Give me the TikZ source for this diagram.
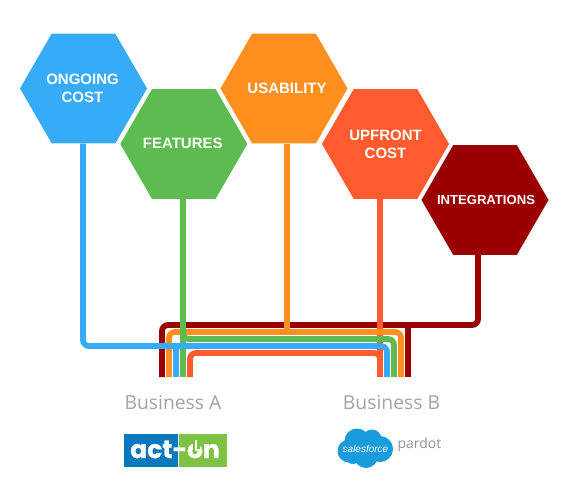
\documentclass[tikz,border=0pt]{standalone}
\usepackage{fontspec}
\setmainfont{Liberation Sans}
\newfontfamily\bizfont{Open Sans}
\newfontfamily\logofont[BoldFeatures={FakeBold=0.7}]{Poppins}
\usetikzlibrary{shapes.geometric}
\definecolor{cblue}{HTML}{38ABF8}
\definecolor{cgreen}{HTML}{5DBB52}
\definecolor{corange}{HTML}{FF9020}
\definecolor{cred}{HTML}{FF5B2E}
\definecolor{cdark}{HTML}{9B0000}
\definecolor{cgray}{HTML}{A3A3A3}
\definecolor{cloudblue}{HTML}{1A9BDB}
\definecolor{actblue}{HTML}{0A78BE}
\definecolor{actgreen}{HTML}{7DC242}
\tikzset{
  hex/.style={regular polygon,regular polygon sides=6,minimum size=127pt,inner sep=0pt,outer sep=0pt,
    text=white,font=\fontsize{15}{18}\selectfont\bfseries,align=center},
  wire/.style={line width=5.8pt,rounded corners=6pt},
  biz/.style={text=cgray,font=\bizfont\fontsize{19.3}{22}\selectfont,inner sep=0pt},
}
\begin{document}
\begin{tikzpicture}[x=1pt,y=-1pt]
\useasboundingbox (0,0) rectangle (580,500);
% hexagons
\node[hex,fill=cblue]   (ongoing)  at (83.5,88.5)  {\raisebox{-1pt}{\makebox[0pt]{\hspace{-2pt}ONGOING}}\\\raisebox{-1pt}{\makebox[0pt]{\hspace{-2pt}COST}}};
\node[hex,fill=cgreen]  (features) at (183.8,144)  {\raisebox{1.5pt}{\makebox[0pt]{\hspace{-2pt}FEATURES}}};
\node[hex,fill=corange] (usability) at (284,88.5)  {\makebox[0pt]{\hspace{6pt}USABILITY}};
\node[hex,fill=cred]    (upfront)  at (385.5,144)  {\makebox[0pt]{UPFRONT}\\\makebox[0pt]{COST}};
\node[hex,fill=cdark]   (integ)    at (485,200)    {\makebox[0pt]{\hspace{2pt}\fontsize{13.1}{18}\selectfont INTEGRATIONS}};
% bus end points
\coordinate (dA) at (162,377); \coordinate (dB) at (408,377);
\coordinate (oA) at (169,377); \coordinate (oB) at (401,377);
\coordinate (bA) at (176,377); \coordinate (bB) at (387,377);
\coordinate (gA) at (183,377); \coordinate (gB) at (394,377);
\coordinate (rA) at (190,377); \coordinate (rB) at (380,377);
% dark red
\draw[wire,cdark] ([xshift=-7pt]integ.south) -- (478,325) -- (162,325) -- (dA);
\draw[wire,cdark] (408,325) -- (dB);
% red-orange stem
\draw[wire,cred] ([xshift=-5.5pt]upfront.south) -- (rB);
% orange
\draw[wire,corange] (oA) -- (169,332) -- (401,332) -- (oB);
\draw[wire,corange] ([xshift=3pt]usability.south) -- (287,332);
% green
\draw[wire,cgreen] (features.south -| gA) -- (gA);
\draw[wire,cgreen] (183,330) -- (183,339) -- (394,339) -- (gB);
% red-orange lower
\draw[wire,cred] (rA) -- (190,353) -- (380,353) -- (380,360);
% blue
\draw[wire,cblue] (ongoing.south -| 83,0) -- (83,346) -- (387,346) -- (bB);
\draw[wire,cblue] (176,346) -- (bA);
% labels
\node[biz] (bizA) at (173,403) {Business A};
\node[biz] (bizB) at (391.5,403) {Business B};
% act-on logo
\fill[actblue] (123.5,434) rectangle (178,466.5);
\fill[actgreen] (179,434) rectangle (227,466.5);
\node[text=white,inner sep=0pt,font=\logofont\bfseries\fontsize{25}{25}\selectfont] (act) at (175,449.5) {act-on};
\fill[actgreen] (192.5,438) rectangle (199.5,449);
\fill[white] (194.6,439.5) rectangle (197.4,451);
% salesforce cloud
\fill[cloudblue] (349,451) circle (11.5) (357,441) circle (12.5) (372,439) circle (9.5)
  (380,449) circle (13) (366,456) circle (12) (353,456) circle (8);
\node[text=white,inner sep=0pt,font=\fontsize{10}{10}\selectfont] (sf) at (365.5,449) {\textit{salesforce}};
\node[text=gray!85,inner sep=0pt,font=\bizfont\fontsize{14}{14}\selectfont] (pardot) at (419.5,445) {pardot};
\end{tikzpicture}
\end{document}
